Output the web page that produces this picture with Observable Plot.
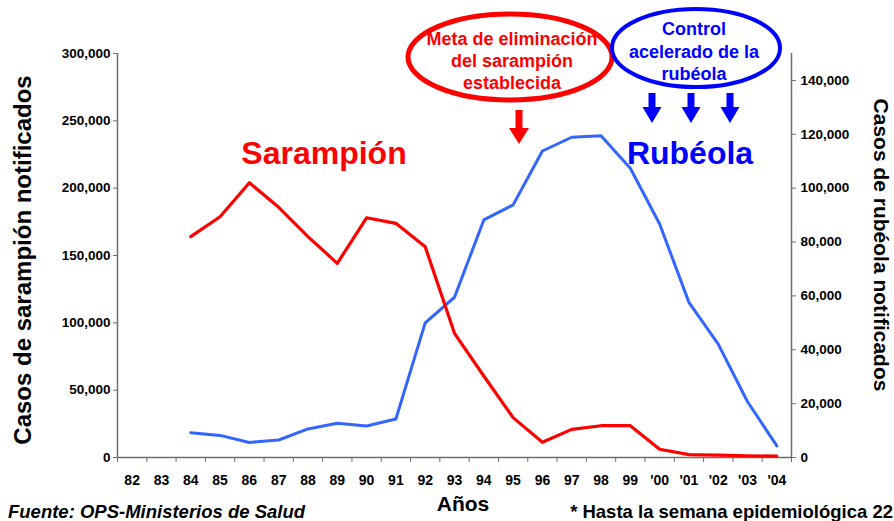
<!DOCTYPE html>
<html>
<head>
<meta charset="utf-8">
<script src="https://cdn.jsdelivr.net/npm/d3@7"></script>
<script src="https://cdn.jsdelivr.net/npm/@observablehq/plot@0.6"></script>
<style>
  html, body { margin: 0; padding: 0; background: #fff; }
  #chart svg { display: block; font-family: "Liberation Sans", Arial, sans-serif; }
  #chart svg text { font-weight: bold; }
  .xlab text { font-family: "Liberation Sans Narrow", "Liberation Sans", Arial, sans-serif; }
</style>
</head>
<body>
<div id="chart"></div>
<script>
// ---- data ----
const years = ["82","83","84","85","86","87","88","89","90","91","92","93","94","95","96","97","98","99","'00","'01","'02","'03","'04"];
const sarampion = [null, null, 164000, 178800, 204000, 185800, 164000, 144200, 178000, 173900, 156500, 92200, 60500, 29600, 11300, 20900, 23600, 23600, 6100, 2100, 1800, 1300, 1000];
const rubeola = [null, null, 9200, 8200, 5600, 6500, 10600, 12700, 11700, 14300, 50000, 59500, 88200, 93800, 113800, 118900, 119500, 107400, 86700, 57600, 42100, 20700, 4300];
const leftTicks = [0, 50000, 100000, 150000, 200000, 250000, 300000];
const rightTicks = [0, 20000, 40000, 60000, 80000, 100000, 120000, 140000];
const leftMax = 300000, rightMax = 150000;
const k = leftMax / rightMax;

const fmt = d3.format(",");
const rows = years.map((y, i) => ({i, year: y, s: sarampion[i], r: rubeola[i] == null ? null : rubeola[i] * k}));
const bounds = d3.range(years.length + 1).map(i => i - 0.5);

const RED = "#FF0000", BLUE = "#0000FF", BLUE_LINE = "#3366FF", AXIS = "#6e6e6e";

function annotations(index, scales, values, dims) {
  const g = d3.create("svg:g").attr("text-anchor", "start");
  // ellipses
  g.append("ellipse").attr("cx", 510).attr("cy", 57).attr("rx", 102).attr("ry", 43)
    .attr("fill", "none").attr("stroke", RED).attr("stroke-width", 5);
  g.append("ellipse").attr("cx", 696).attr("cy", 48).attr("rx", 84).attr("ry", 39)
    .attr("fill", "none").attr("stroke", BLUE).attr("stroke-width", 4);
  const lines = (arr, cx, y0, dy, color) => arr.forEach((t, j) =>
    g.append("text").attr("x", cx).attr("y", y0 + j * dy).attr("text-anchor", "middle")
      .attr("fill", color).attr("font-size", 18).text(t));
  lines(["Meta de eliminación", "del sarampión", "establecida"], 512, 45, 22, RED);
  lines(["Control", "acelerado de la", "rubéola"], 694, 35, 22.5, BLUE);
  // block arrows
  const arrow = (cx, y0, y1, y2, sw, hw, color) =>
    g.append("path").attr("fill", color)
      .attr("d", `M${cx - sw / 2},${y0}H${cx + sw / 2}V${y1}H${cx + hw / 2}L${cx},${y2}L${cx - hw / 2},${y1}H${cx - sw / 2}Z`);
  arrow(519, 110, 128, 144, 7, 20, RED);
  [652, 691, 730].forEach(cx => arrow(cx, 93, 107, 123, 7, 19, BLUE));
  // series labels
  g.append("text").attr("x", 324).attr("y", 164).attr("text-anchor", "middle")
    .attr("fill", RED).attr("font-size", 32).text("Sarampión");
  g.append("text").attr("x", 690).attr("y", 164).attr("text-anchor", "middle")
    .attr("fill", BLUE).attr("font-size", 32).text("Rubéola");
  // axis titles
  g.append("text").attr("transform", "translate(31,260) rotate(-90)").attr("text-anchor", "middle")
    .attr("fill", "#000").attr("font-size", 24).text("Casos de sarampión notificados");
  g.append("text").attr("transform", "translate(874,245) rotate(90)").attr("text-anchor", "middle")
    .attr("fill", "#000").attr("font-size", 21).text("Casos de rubéola notificados");
  g.append("text").attr("x", 463).attr("y", 511).attr("text-anchor", "middle")
    .attr("fill", "#000").attr("font-size", 21).text("Años");
  // footer
  g.append("text").attr("x", 8).attr("y", 518).attr("text-anchor", "start").attr("font-style", "italic")
    .attr("fill", "#000").attr("font-size", 18.5).text("Fuente: OPS-Ministerios de Salud");
  g.append("text").attr("x", 893).attr("y", 518).attr("text-anchor", "end")
    .attr("fill", "#000").attr("font-size", 18.5).text("* Hasta la semana epidemiológica 22");
  return g.node();
}

const chart = Plot.plot({
  width: 894,
  height: 521,
  marginLeft: 117,
  marginRight: 103,
  marginTop: 53,
  marginBottom: 64,
  style: {overflow: "visible", background: "#fff"},
  x: {domain: [-0.5, years.length - 0.5], axis: null},
  y: {domain: [0, leftMax], axis: null},
  marks: [
    Plot.axisY(leftTicks, {anchor: "left", tickFormat: fmt, tickSize: 4, tickPadding: 3, fontSize: 13.5, stroke: AXIS, fill: "#000", label: null}),
    Plot.axisY(rightTicks.map(v => v * k), {anchor: "right", tickFormat: d => fmt(d / k), tickSize: 4, tickPadding: 5, fontSize: 13.5, stroke: AXIS, fill: "#000", label: null}),
    Plot.axisX(bounds, {anchor: "bottom", tickFormat: () => "", tickSize: 5, stroke: AXIS, label: null}),
    Plot.axisX(d3.range(years.length), {anchor: "bottom", tickFormat: i => years[i], tickSize: 0, tickPadding: 18, fontSize: 14, fill: "#000", label: null, className: "xlab"}),
    Plot.ruleX([bounds[0], bounds[bounds.length - 1]], {stroke: AXIS, strokeWidth: 1.5}),
    Plot.ruleY([0], {stroke: AXIS, strokeWidth: 1.5}),
    Plot.line(rows, {x: "i", y: "r", stroke: BLUE_LINE, strokeWidth: 3}),
    Plot.line(rows, {x: "i", y: "s", stroke: RED, strokeWidth: 3.2}),
    annotations
  ]
});
document.getElementById("chart").appendChild(chart);
</script>
</body>
</html>
